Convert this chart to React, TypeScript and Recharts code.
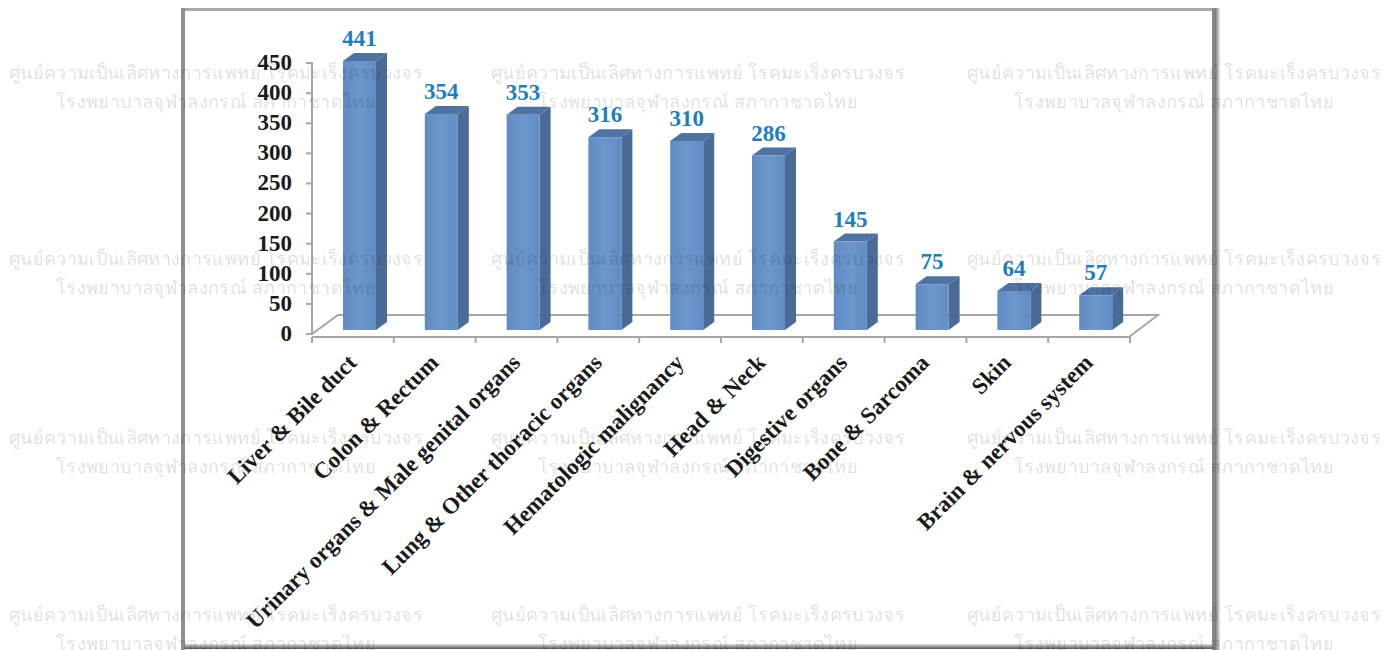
import React from "react";
import { ComposedChart, Bar, Line, XAxis, YAxis, LabelList } from "recharts";

const categories = ["Liver & Bile duct","Colon & Rectum","Urinary organs & Male genital organs","Lung & Other thoracic organs","Hematologic malignancy","Head & Neck","Digestive organs","Bone & Sarcoma","Skin","Brain & nervous system"];
const cases = [441,354,353,316,310,286,145,75,64,57];
const yTicks = [0,50,100,150,200,250,300,350,400,450];
const watermarkLines = ["ศูนย์ความเป็นเลิศทางการแพทย์ โรคมะเร็งครบวงจร","โรงพยาบาลจุฬาลงกรณ์ สภากาชาดไทย"];
const rows = categories.map((name,i)=>({name,value:cases[i]}));

const SERIF = "'Liberation Serif', 'Times New Roman', serif";
const BAND = 81.8, PX_PER_UNIT = 0.602, DX = 11, DY = 8, SHIFT = 7;

const Bar3D = (p:any)=>{
  const x=p.x+SHIFT,y=p.y,w=p.width,h=p.height;
  return <g>
    <path d={`M${x+w} ${y}l${DX} ${-DY}v${h}l${-DX} ${DY}z`} fill="#4a6b96"/>
    <path d={`M${x} ${y}l${DX} ${-DY}h${w}l${-DX} ${DY}z`} fill="#4f72a0"/>
    <rect x={x} y={y} width={w} height={h} fill="url(#barFront)"/>
  </g>;
};
const YTick = (p:any)=>{
  const v=p.payload.value;
  return <g>
    <line x1={p.x-6} x2={p.x} y1={p.y} y2={p.y} stroke="#a6a6a6" strokeWidth={2}/>
    {v<450 && <line x1={p.x} x2={p.x} y1={p.y+1} y2={p.y-50*PX_PER_UNIT-1} stroke="#a6a6a6" strokeWidth={2}/>}
    <text x={p.x-20} y={p.y+7} textAnchor="end" fontFamily={SERIF} fontWeight={700} fontSize={23} fill="#1a1a1a">{v}</text>
  </g>;
};
const XTick = (p:any)=>{
  const last=p.index===categories.length-1;
  const axisY=337;
  return <g>
    <line x1={p.x-BAND/2} x2={p.x-BAND/2} y1={axisY} y2={axisY+6} stroke="#a6a6a6" strokeWidth={2}/>
    {last && <line x1={p.x+BAND/2} x2={p.x+BAND/2} y1={axisY} y2={axisY+6} stroke="#a6a6a6" strokeWidth={2}/>}
    <text x={p.x+5} y={axisY+27} transform={`rotate(-45 ${p.x+5} ${axisY+27})`} textAnchor="end" fontFamily={SERIF} fontWeight={700} fontSize={23} fill="#1a1a1a">{p.payload.value}</text>
  </g>;
};
const ValueLabel = (p:any)=>(
  <text x={p.x+SHIFT+p.width/2} y={p.y-DY-7} textAnchor="middle" fontFamily={SERIF} fontWeight={700} fontSize={23} fill="#1f7dbd">{p.value}</text>
);

const wmCols=[216,698,1174];
const wmRows=[72,258,437,614];

export default function App(){
  return <div style={{position:"absolute",left:0,top:0,width:1384,height:650,background:"#fff",overflow:"hidden"}}>
    <svg width={1384} height={650} style={{position:"absolute",left:0,top:0}}>
      <defs>
        <linearGradient id="rightEdge" x1="0" x2="1" y1="0" y2="0">
          <stop offset="0" stopColor="#8c8c8c"/><stop offset=".45" stopColor="#808080"/><stop offset="1" stopColor="#e8e8e8"/>
        </linearGradient>
        <linearGradient id="bottomEdge" x1="0" x2="0" y1="0" y2="1">
          <stop offset="0" stopColor="#e0e0e0"/><stop offset="1" stopColor="#555"/>
        </linearGradient>
      </defs>
      <rect x={181} y={8} width={1033} height={3} fill="#a8a8a8"/>
      <rect x={181} y={8} width={4} height={642} fill="#8f8f8f"/>
      <rect x={1212} y={8} width={8} height={642} fill="url(#rightEdge)"/>
      <rect x={185} y={644} width={1027} height={5} fill="url(#bottomEdge)"/>
      <path d="M312 334L338 315H1158L1129 337H312" fill="none" stroke="#a6a6a6" strokeWidth={2}/>
    </svg>
    <div style={{position:"absolute",left:0,top:0}}>
      <ComposedChart width={1384} height={650} data={rows} margin={{top:50,right:254,bottom:13,left:252}} style={{background:"transparent"}}>
        <defs>
          <linearGradient id="barFront" x1="0" x2="1" y1="0" y2="0">
            <stop offset="0" stopColor="#5f8bc3"/><stop offset=".5" stopColor="#6d97cd"/><stop offset="1" stopColor="#618dc5"/>
          </linearGradient>
        </defs>
        <XAxis dataKey="name" xAxisId="x" interval={0} height={300} axisLine={{stroke:"#a6a6a6",strokeWidth:2}} tickLine={false} tick={XTick}/>
        <YAxis yAxisId="scale" width={60} type="number" domain={[-5,471.7]} ticks={yTicks} interval={0} allowDataOverflow axisLine={false} tickLine={false} tickSize={0} tickMargin={0} tick={YTick}/>
        <YAxis yAxisId="bars" orientation="right" width={0} hide type="number" domain={[-11.5,459]}/>
        <Line dataKey="value" xAxisId="x" yAxisId="scale" stroke="none" dot={false} activeDot={false} legendType="none" isAnimationActive={false}/>
        <Bar dataKey="value" xAxisId="x" yAxisId="bars" barSize={33} shape={Bar3D} isAnimationActive={false}>
          <LabelList dataKey="value" content={ValueLabel}/>
        </Bar>
      </ComposedChart>
    </div>
    {wmRows.flatMap(r=>wmCols.flatMap(c=>watermarkLines.map((line,i)=>(
      <div key={`${r}-${c}-${i}`} style={{position:"absolute",left:c-260,width:520,top:r+i*29-12,textAlign:"center",whiteSpace:"nowrap",fontFamily:"'Noto Sans','DejaVu Sans',sans-serif",fontSize:18,lineHeight:"24px",letterSpacing:0.35,color:"rgba(0,0,0,0.14)",pointerEvents:"none"}}>{line}</div>
    ))))}
  </div>;
}
